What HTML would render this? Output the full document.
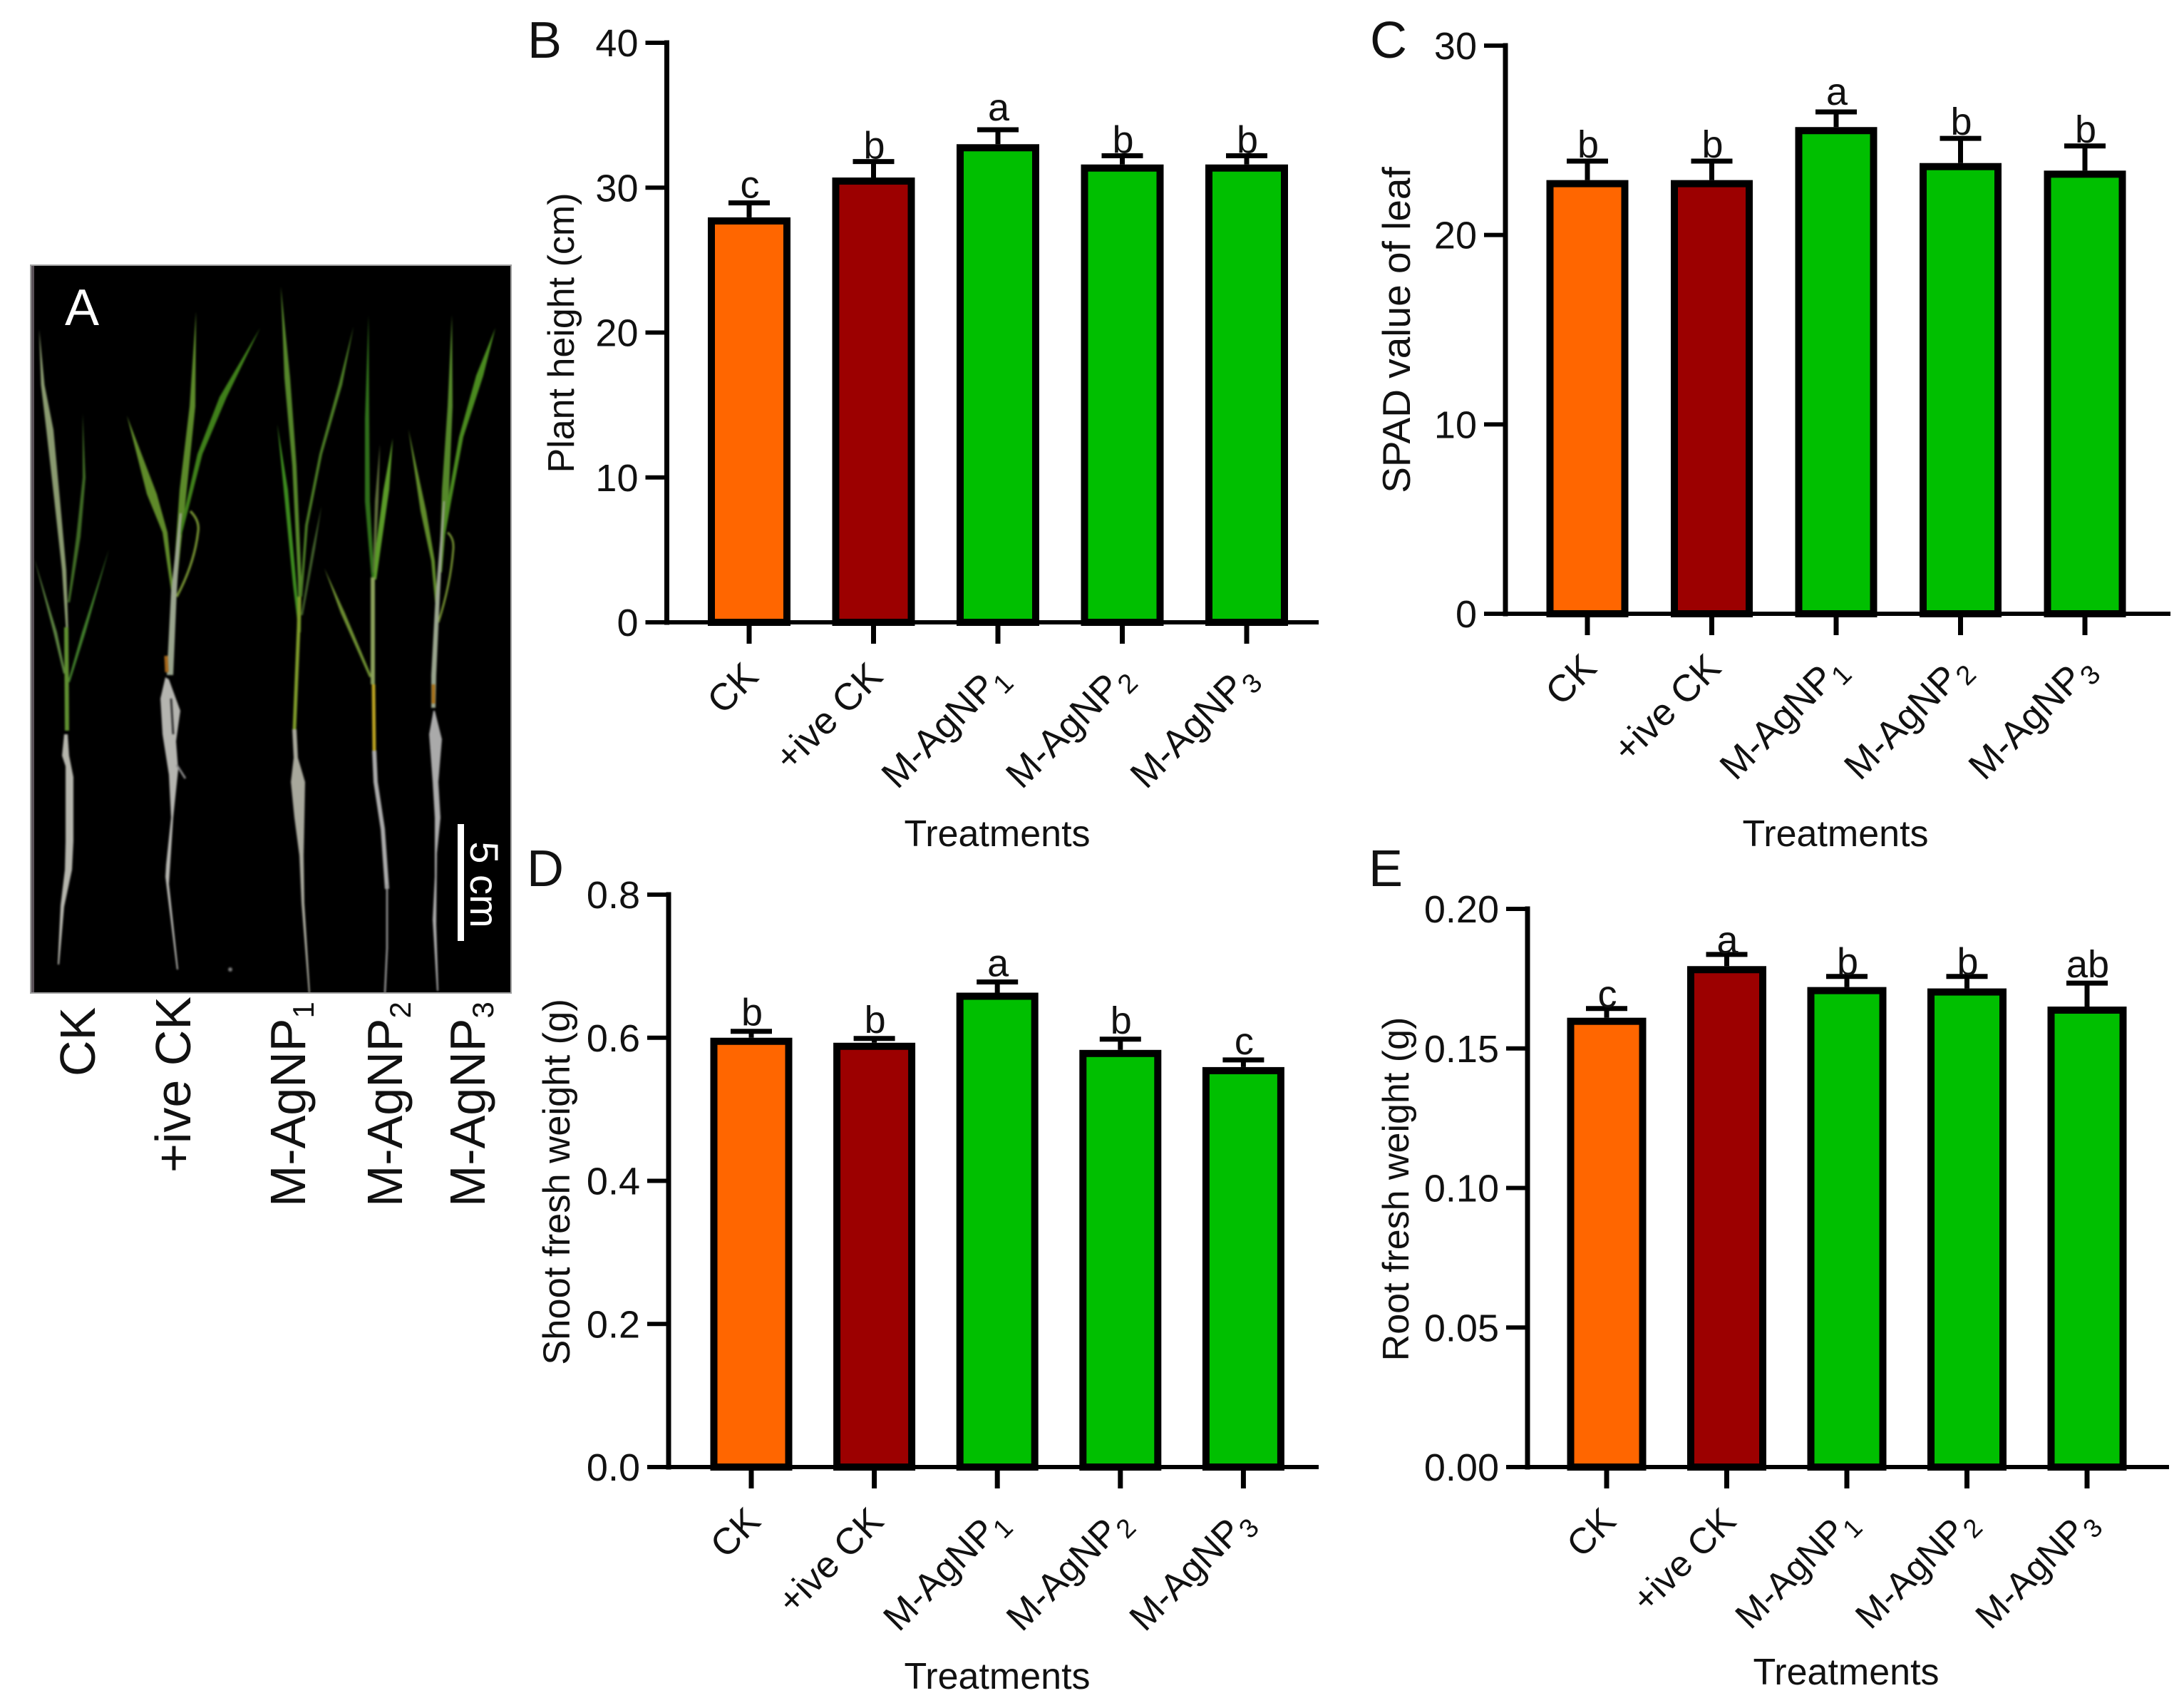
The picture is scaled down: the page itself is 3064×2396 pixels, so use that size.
<!DOCTYPE html>
<html lang="en">
<head>
<meta charset="utf-8">
<title>Effect of M-AgNP treatments on rice seedlings</title>
<style>
html,body{margin:0;padding:0;background:#fff;}
svg{display:block;font-family:"Liberation Sans",Arial,sans-serif;}
</style>
</head>
<body>
<svg id="figure" xmlns="http://www.w3.org/2000/svg" width="3064" height="2396" viewBox="0 0 3064 2396">
  <rect width="3064" height="2396" fill="#fff"/>
  <g>
    <rect x="43" y="372" width="674" height="1021" fill="#000" stroke="#a0a0a0" stroke-width="2"/>
    <rect x="44" y="373" width="4" height="1019" fill="#5a5258"/>
    <g style="filter:blur(1.3px)">
      <g>
        <path d="M55 462L57.5 540L65 603L76 700L87 800L93 890L96 890L93 800L84 700L75 603L62.5 540Z" fill="#8a9a70"/>
        <path d="M116 580L116 670L107 753L95 845L98 845L113 753L120 670Z" fill="#3f6a25"/>
        <path d="M153 770L115 887L95 957L98 957L120 887Z" fill="#3f7a2a"/>
        <path d="M48 783L75 887L89 945L92 945L80 887Z" fill="#5a8040"/>
        <path d="M93 880L94 1025" fill="none" stroke="#5f8f30" stroke-width="6"/>
        <path d="M90 1030L87 1060L92 1075L92 1180L91 1220L85 1270L81 1353L83 1353L90 1272L101 1220L103 1180L103 1090L97 1060L95 1030Z" fill="#b5b5ad"/>
      </g>
      <g>
        <path d="M275 437L266 570L252 687L241 840L246 840L262 687L274 570Z" fill="#5c8a2a"/>
        <path d="M365 460L308 557L277 637L251 750L255 750L284 637L318 557Z" fill="#3f7f1a"/>
        <path d="M178 583L206 693L228 747L241 835L244 835L235 747L220 693Z" fill="#5f8a2a"/>
        <path d="M267 717Q280 730 278 745Q273 790 248 837" fill="none" stroke="#6f8a30" stroke-width="3.5"/>
        <path d="M252 720L240 830L234 947L243 947L248 830L255 720Z" fill="#9aa58e"/>
        <path d="M233 920L234 943" fill="none" stroke="#a5651a" stroke-width="5"/>
        <path d="M232 950L225 980L228 1030L237 1087L240 1147L233 1213L232 1230L248 1360L250 1360L237 1240L243 1147L250 1080L247 1040L253 997L237 953Z" fill="#b5b5b0"/>
        <path d="M240 980L243 1030" fill="none" stroke="#333" stroke-width="3"/>
        <path d="M248 1073L260 1092" fill="none" stroke="#888" stroke-width="3"/>
      </g>
      <g>
        <path d="M394 402L399 530L410 653L418 813L419 887L422 887L423 813L416 653L407 530Z" fill="#55862a"/>
        <path d="M496 458L475 540L448 637L428 737L421 837L424 837L432 737L452 637L480 540Z" fill="#4a7a25"/>
        <path d="M389 595L398 687L411 820L417 870L420 870L416 820L404 687Z" fill="#3c8a1e"/>
        <path d="M451 710L438 770L422 863L425 863L442 770Z" fill="#3f5c2a"/>
        <path d="M420 837L419 880L413 1023" fill="none" stroke="#7d9a2a" stroke-width="5"/>
        <path d="M410 1023L412 1063L408 1097L413 1147L420 1200L423 1267L433 1393L435 1393L427 1267L426 1200L428 1097L418 1063L416 1023Z" fill="#a8a89c"/>
      </g>
      <g>
        <path d="M517 442L512 587L512 703L521 810L525 810L519 703L518 587Z" fill="#2f6f1a"/>
        <path d="M533 623L526 703L523 803L526 803L531 703Z" fill="#5c6c3a"/>
        <path d="M551 615L538 687L527 770L524 813L528 813L534 770L546 687Z" fill="#5a9a28"/>
        <path d="M455 797L478 860L518 950L522 950L484 860Z" fill="#6a8a30"/>
        <path d="M523 810L523 960" fill="none" stroke="#8aa05a" stroke-width="6"/>
        <path d="M524 960L525 1053" fill="none" stroke="#b8a020" stroke-width="5"/>
        <path d="M525 1053L527 1097L537 1163L543 1247" fill="none" stroke="#aaa" stroke-width="6"/>
        <path d="M543 1240L543 1330L540 1393" fill="none" stroke="#999" stroke-width="2.5"/>
      </g>
      <g>
        <path d="M634 442L628 570L620 687L616 803L620 803L630 687L635 570Z" fill="#55882a"/>
        <path d="M695 460L668 527L644 613L628 703L621 753L624 753L633 703L650 613L678 527Z" fill="#4a8a1f"/>
        <path d="M573 602L590 717L605 787L612 863L615 863L610 787L598 717Z" fill="#5f8a2a"/>
        <path d="M628 747Q637 755 636 770Q632 820 615 873" fill="none" stroke="#6f8a30" stroke-width="3"/>
        <path d="M622 703L611 837L605 947L605 993L611 993L612 947L617 837L624 703Z" fill="#9aa58e"/>
        <path d="M608 960L608 987" fill="none" stroke="#a5701a" stroke-width="5"/>
        <path d="M608 997L602 1030L607 1097L610 1147L610 1230L607 1290L613 1390L615 1390L612 1297L613 1197L618 1147L615 1097L620 1037L610 997Z" fill="#aaa"/>
      </g>
      <circle cx="323" cy="1360" r="3" fill="#777"/>
    </g>
    <text x="91" y="456" font-size="72" fill="#fff">A</text>
    <rect x="642" y="1156" width="9" height="164" fill="#fff"/>
    <text transform="translate(660,1241) rotate(90)" text-anchor="middle" font-size="56" fill="#fff">5 cm</text>
    <text transform="translate(133,1510) rotate(-90)" font-size="70" fill="#111">CK</text>
    <text transform="translate(267,1645) rotate(-90)" font-size="70" fill="#111">+ive CK</text>
    <text transform="translate(428,1693) rotate(-90)" font-size="70" fill="#111">M-AgNP<tspan font-size="42" dy="12">1</tspan></text>
    <text transform="translate(564,1693) rotate(-90)" font-size="70" fill="#111">M-AgNP<tspan font-size="42" dy="12">2</tspan></text>
    <text transform="translate(680,1693) rotate(-90)" font-size="70" fill="#111">M-AgNP<tspan font-size="42" dy="12">3</tspan></text>
  </g>
</svg>
<script>
const categories = ['CK', '+ive CK', 'M-AgNP', 'M-AgNP', 'M-AgNP'];
const categorySubscripts = ['', '', '1', '2', '3'];
const barColors = ['#ff6600', '#9c0000', '#00bf00', '#00bf00', '#00bf00'];

const heightValues = [27.95, 30.7, 33.0, 31.6, 31.6];
const heightErrorTops = [28.95, 31.8, 34.0, 32.2, 32.2];
const heightLetters = ['c', 'b', 'a', 'b', 'b'];
const heightTicks = ['0', '10', '20', '30', '40'];

const spadValues = [22.9, 22.9, 25.7, 23.8, 23.4];
const spadErrorTops = [23.9, 23.9, 26.5, 25.1, 24.7];
const spadLetters = ['b', 'b', 'a', 'b', 'b'];
const spadTicks = ['0', '10', '20', '30'];

const shootValues = [0.6, 0.593, 0.663, 0.583, 0.559];
const shootErrorTops = [0.609, 0.599, 0.678, 0.598, 0.569];
const shootLetters = ['b', 'b', 'a', 'b', 'c'];
const shootTicks = ['0.0', '0.2', '0.4', '0.6', '0.8'];

const rootValues = [0.161, 0.1795, 0.172, 0.1715, 0.165];
const rootErrorTops = [0.1643, 0.1837, 0.1758, 0.1758, 0.1734];
const rootLetters = ['c', 'a', 'b', 'b', 'ab'];
const rootTicks = ['0.00', '0.05', '0.10', '0.15', '0.20'];

const NS = 'http://www.w3.org/2000/svg';
const figure = document.getElementById('figure');

function make(parent, tag, props, text) {
  const el = document.createElementNS(NS, tag);
  for (const key in props) el.setAttribute(key, props[key]);
  if (text !== undefined) el.textContent = text;
  parent.appendChild(el);
  return el;
}

function drawChart(cfg) {
  const group = make(figure, 'g', {});
  
  

  const tickNums = cfg.ticks.map(Number);
  const yMax = Math.max.apply(null, tickNums);
  const yScale = v => cfg.y0 - (v / yMax) * (cfg.y0 - cfg.yTop);
  const xScale = i => cfg.x0 + cfg.step * i;

  const panelLabel = make(group, 'text', { x: cfg.labelX, y: cfg.labelY, 'font-size': 72, fill: '#111' }, cfg.letter);
  
  

  cfg.values.forEach((v, i) => {
    const cx = xScale(i);
    const top = yScale(v);
    const errTop = yScale(cfg.errs[i]);

    const stem = make(group, 'line', { x1: cx, x2: cx, y1: top, y2: errTop, stroke: '#000', 'stroke-width': 7 });
    
    

    const cap = make(group, 'line', { x1: cx - 29, x2: cx + 29, y1: errTop, y2: errTop, stroke: '#000', 'stroke-width': 7 });
    
    

    const bar = make(group, 'rect', {
      x: cx - cfg.barW / 2 + 5, y: top + 5,
      width: cfg.barW - 10, height: cfg.y0 - top - 5,
      fill: barColors[i], stroke: '#000', 'stroke-width': 10
    });
    
    

    const sig = make(group, 'text', { x: cx + 1, y: errTop - cfg.letterGap[cfg.letters[i]], 'text-anchor': 'middle', 'font-size': 54, fill: '#111' }, cfg.letters[i]);
    
    

    const tick = make(group, 'line', { x1: cx, x2: cx, y1: cfg.y0, y2: cfg.y0 + 30, stroke: '#000', 'stroke-width': 7 });
    
    

    const lab = make(group, 'text', {
      transform: 'translate(' + (cx + 15.5) + ',' + (cfg.y0 + 79) + ') rotate(-45)',
      'text-anchor': 'end', 'font-size': cfg.catSize, fill: '#111'
    }, categories[i]);
    
    
    if (categorySubscripts[i]) {
      const sub = make(lab, 'tspan', { 'font-size': cfg.catSize * 0.72, dy: 12 }, categorySubscripts[i]);
      
      
    }
  });

  const yAxis = make(group, 'line', { x1: cfg.axisX, x2: cfg.axisX, y1: cfg.yTop - 3.5, y2: cfg.y0 + 3.5, stroke: '#000', 'stroke-width': 7 });
  
  

  const xAxis = make(group, 'line', { x1: cfg.axisX - 30, x2: cfg.xEnd, y1: cfg.y0, y2: cfg.y0, stroke: '#000', 'stroke-width': 6 });
  
  

  cfg.ticks.forEach((t, i) => {
    const y = yScale(tickNums[i]);
    const tick = make(group, 'line', { x1: cfg.axisX - 30, x2: cfg.axisX, y1: y, y2: y, stroke: '#000', 'stroke-width': 6 });
    
    

    const lab = make(group, 'text', { x: cfg.axisX - 40, y: y + 19, 'text-anchor': 'end', 'font-size': 54, fill: '#111' }, t);
    
    
  });

  const yTitle = make(group, 'text', {
    transform: 'translate(' + cfg.yTitleX + ',' + cfg.yTitleY + ') rotate(-90)',
    'text-anchor': 'middle', 'font-size': cfg.yTitleSize, fill: '#111'
  }, cfg.yTitle);
  
  

  const xTitle = make(group, 'text', { x: cfg.xTitleX, y: cfg.xTitleY, 'text-anchor': 'middle', 'font-size': 52, fill: '#111' }, 'Treatments');
  
  
}

drawChart({
  name: 'panel-b-plant-height', letter: 'B', labelX: 740, labelY: 81,
  values: heightValues, errs: heightErrorTops, letters: heightLetters, ticks: heightTicks,
  letterGap: { a: 13, b: 4, c: 7 },
  axisX: 935.5, y0: 873, yTop: 60, x0: 1051, step: 174.5, barW: 116, xEnd: 1850, catSize: 53,
  yTitle: 'Plant height (cm)', yTitleX: 805, yTitleY: 467, yTitleSize: 52,
  xTitleX: 1399, xTitleY: 1187
});
drawChart({
  name: 'panel-c-spad-value', letter: 'C', labelX: 1922, labelY: 81,
  values: spadValues, errs: spadErrorTops, letters: spadLetters, ticks: spadTicks,
  letterGap: { a: 10, b: 5 },
  axisX: 2112, y0: 861, yTop: 64, x0: 2227, step: 174.5, barW: 115, xEnd: 3045, catSize: 53,
  yTitle: 'SPAD value of leaf', yTitleX: 1978, yTitleY: 463, yTitleSize: 55,
  xTitleX: 2575, xTitleY: 1187
});
drawChart({
  name: 'panel-d-shoot-fresh-weight', letter: 'D', labelX: 739, labelY: 1243,
  values: shootValues, errs: shootErrorTops, letters: shootLetters, ticks: shootTicks,
  letterGap: { a: 8, b: 8, c: 8 },
  axisX: 938, y0: 2058, yTop: 1255, x0: 1054, step: 172.6, barW: 115, xEnd: 1850, catSize: 52,
  yTitle: 'Shoot fresh weight (g)', yTitleX: 799, yTitleY: 1658, yTitleSize: 52.5,
  xTitleX: 1399, xTitleY: 2369
});
drawChart({
  name: 'panel-e-root-fresh-weight', letter: 'E', labelX: 1920, labelY: 1243,
  values: rootValues, errs: rootErrorTops, letters: rootLetters, ticks: rootTicks,
  letterGap: { a: 2, b: 2, c: 2, ab: 8 },
  axisX: 2143, y0: 2058, yTop: 1275, x0: 2254, step: 168.5, barW: 111, xEnd: 3043, catSize: 51,
  yTitle: 'Root fresh weight (g)', yTitleX: 1976, yTitleY: 1668, yTitleSize: 52,
  xTitleX: 2590, xTitleY: 2363
});
</script>
</body>
</html>
